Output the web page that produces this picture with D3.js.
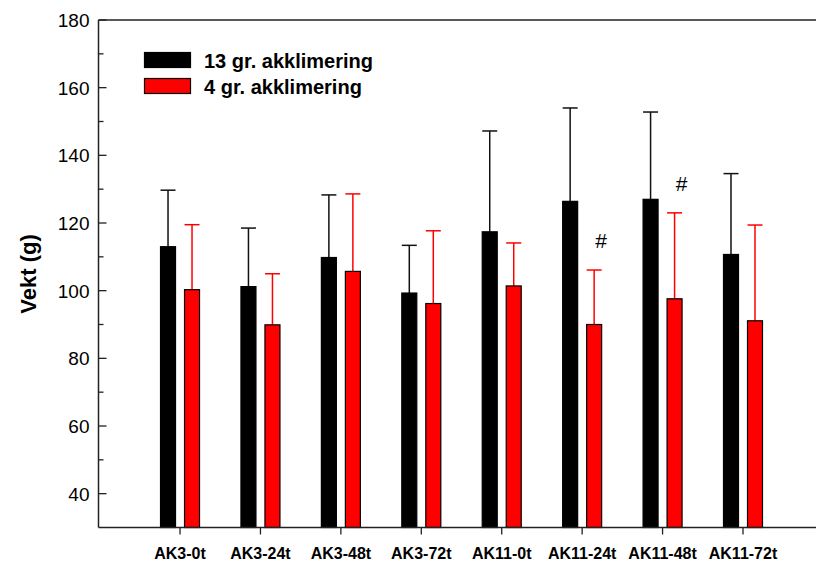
<!DOCTYPE html>
<html>
<head>
<meta charset="utf-8">
<script src="https://cdn.jsdelivr.net/npm/d3@7"></script>
<style>
  body { margin: 0; background: #fff; }
  svg { display: block; font-family: Arial, "Liberation Sans", sans-serif; }
</style>
</head>
<body>
<svg id="chart" width="816" height="562"></svg>
<script>
// Data
const groups = ["AK3-0t", "AK3-24t", "AK3-48t", "AK3-72t", "AK11-0t", "AK11-24t", "AK11-48t", "AK11-72t"];
const seriesNames = ["13 gr. akklimering", "4 gr. akklimering"];
const warmMean = [113.0, 101.2, 109.8, 99.3, 117.4, 126.4, 127.0, 110.7];
const warmTop = [129.7, 118.5, 128.3, 113.4, 147.2, 154.0, 152.8, 134.6];
const coldMean = [100.3, 89.9, 105.7, 96.2, 101.4, 90.0, 97.6, 91.1];
const coldTop = [119.5, 105.0, 128.6, 117.7, 114.1, 106.1, 123.0, 119.4];
const marked = ["AK11-24t", "AK11-48t"];
const yMajor = [40, 60, 80, 100, 120, 140, 160, 180];
const yMinor = [50, 70, 90, 110, 130, 150, 170];

const svg = d3.select('#chart');
const plotLeft = 98.5, plotTop = 20, plotBottom = 527.5;

const y = d3.scaleLinear().domain([30, 180]).range([plotBottom, plotTop]);
// category positions: index 1..8 along the axis
const x = d3.scaleLinear().domain([0, 8]).range([99.6, 743]);
const pos = d => x(groups.indexOf(d) + 1);

const barW = 15, off = 12;
const series = [
    { name: seriesNames[0], mean: warmMean, top: warmTop, fill: '#000', err: '#111', dx: -off },
    { name: seriesNames[1], mean: coldMean, top: coldTop, fill: '#ff0000', err: '#ff0000', dx: off }
];

// bars + error bars
series.forEach(s => {
    const g = svg.append('g');
    groups.forEach((c, i) => {
        const cx = pos(c) + s.dx;
        g.append('line')
            .attr('x1', cx).attr('x2', cx)
            .attr('y1', y(s.mean[i])).attr('y2', y(s.top[i]))
            .attr('stroke', s.err).attr('stroke-width', 1.5);
        g.append('line')
            .attr('x1', cx - barW / 2).attr('x2', cx + barW / 2)
            .attr('y1', y(s.top[i])).attr('y2', y(s.top[i]))
            .attr('stroke', s.err).attr('stroke-width', 1.5);
        g.append('rect')
            .attr('x', cx - barW / 2)
            .attr('y', y(s.mean[i]))
            .attr('width', barW)
            .attr('height', plotBottom - y(s.mean[i]))
            .attr('fill', s.fill)
            .attr('stroke', '#000')
            .attr('stroke-width', 1.2);
    });
});

// # markers above the red error bars
marked.forEach(c => {
    const i = groups.indexOf(c);
    svg.append('text')
        .attr('x', pos(c) + off + 7)
        .attr('y', y(coldTop[i]) - 22)
        .attr('text-anchor', 'middle')
        .style('font-size', '21px')
        .text('#');
});

// y axis
const yAxis = svg.append('g').attr('transform', `translate(${plotLeft},0)`);
yAxis.append('line').attr('x1', 0).attr('x2', 0).attr('y1', plotTop).attr('y2', plotBottom)
    .attr('stroke', '#222').attr('stroke-width', 1.5);
yMajor.forEach(v => {
    yAxis.append('line').attr('x1', 0).attr('x2', 8).attr('y1', y(v)).attr('y2', y(v))
        .attr('stroke', '#222').attr('stroke-width', 1.3);
    yAxis.append('text').attr('x', -9).attr('y', y(v)).attr('dy', '0.36em')
        .attr('text-anchor', 'end').style('font-size', '19px').text(v);
});
yMinor.forEach(v => {
    yAxis.append('line').attr('x1', 0).attr('x2', 5).attr('y1', y(v)).attr('y2', y(v))
        .attr('stroke', '#222').attr('stroke-width', 1.3);
});

// frame top and bottom lines
svg.append('line').attr('x1', plotLeft).attr('x2', 816).attr('y1', plotTop).attr('y2', plotTop)
    .attr('stroke', '#222').attr('stroke-width', 1.5);
svg.append('line').attr('x1', plotLeft).attr('x2', 816).attr('y1', plotBottom).attr('y2', plotBottom)
    .attr('stroke', '#222').attr('stroke-width', 1.5);

// x ticks and labels
groups.forEach(c => {
    svg.append('line').attr('x1', pos(c)).attr('x2', pos(c)).attr('y1', plotBottom).attr('y2', plotBottom + 7)
        .attr('stroke', '#222').attr('stroke-width', 1.3);
    svg.append('text').attr('x', pos(c)).attr('y', 559)
        .attr('text-anchor', 'middle')
        .style('font-size', '16px').style('font-weight', 'bold')
        .text(c);
});

// y label
svg.append('text')
    .attr('transform', 'translate(36,274) rotate(-90)')
    .attr('text-anchor', 'middle')
    .style('font-size', '22px').style('font-weight', 'bold')
    .text('Vekt (g)');

// legend
const legend = svg.append('g');
series.forEach((s, i) => {
    const ly = 52.5 + i * 26;
    legend.append('rect')
        .attr('x', 144.5).attr('y', ly)
        .attr('width', 46).attr('height', 15)
        .attr('fill', s.fill).attr('stroke', '#000').attr('stroke-width', 1.2);
    legend.append('text')
        .attr('x', 204).attr('y', ly + 15.5)
        .style('font-size', '20px').style('font-weight', 'bold')
        .text(s.name);
});
</script>
</body>
</html>
